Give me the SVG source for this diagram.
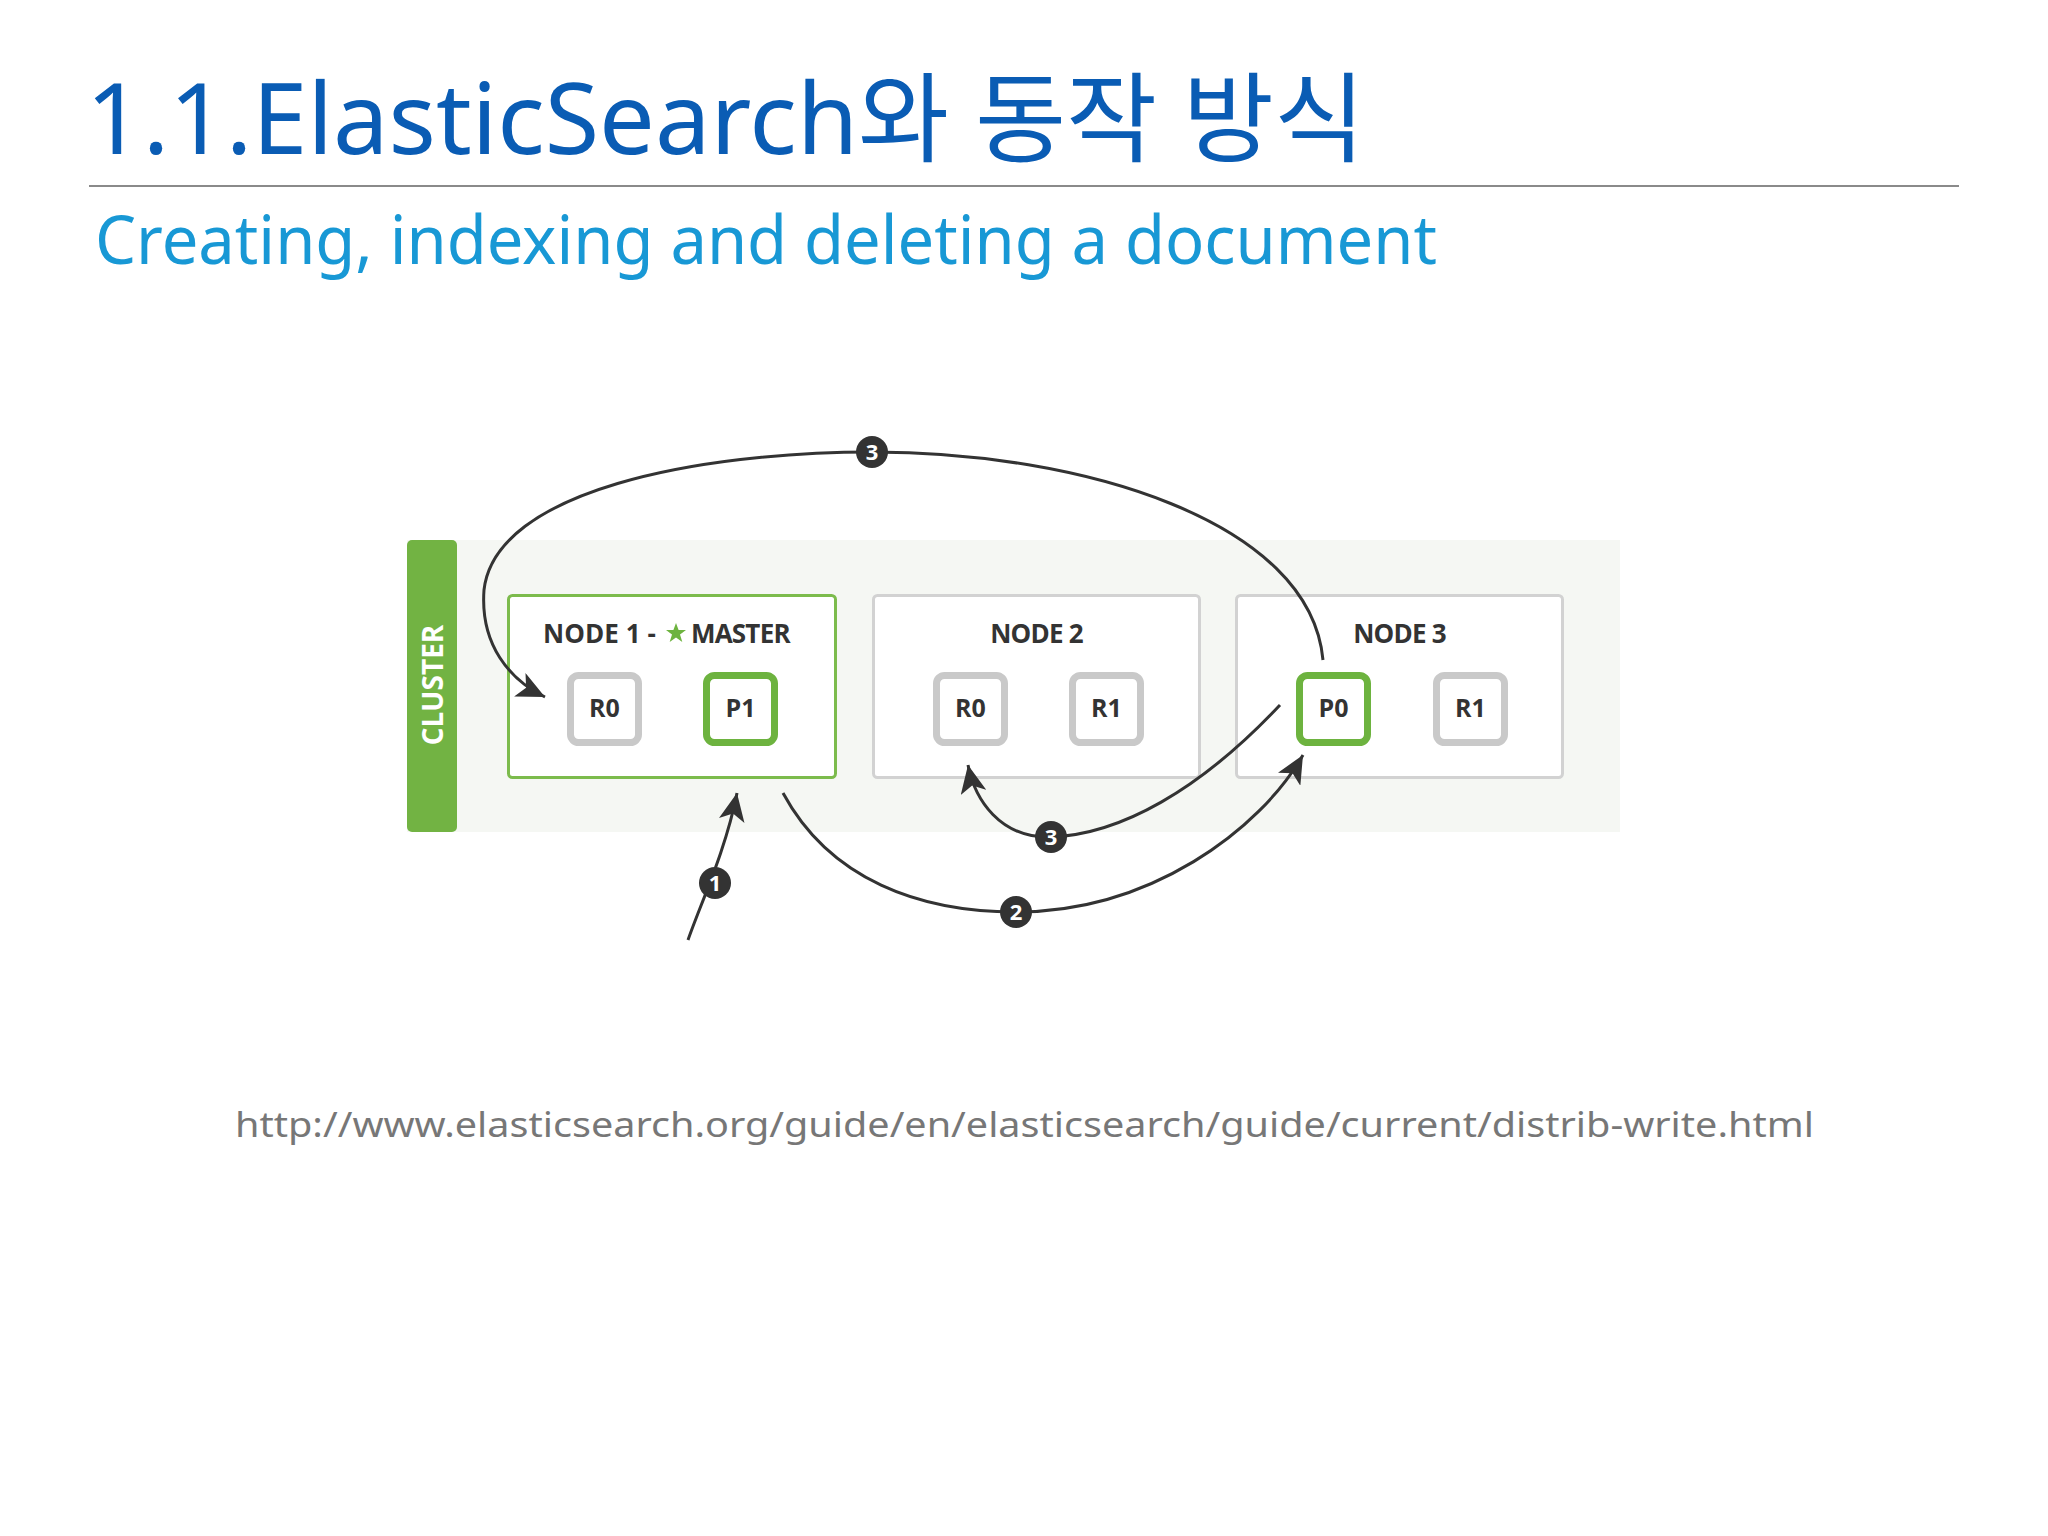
<svg xmlns="http://www.w3.org/2000/svg" width="2048" height="1536" viewBox="0 0 2048 1536">
<defs>
<style>
.title{font-family:"Noto Sans","Noto Sans CJK KR",sans-serif;font-size:98px;fill:#0a5cb4}
.sub{font-family:"Noto Sans","Noto Sans CJK KR",sans-serif;font-size:68px;fill:#1898d5}
.url{font-family:"Noto Sans",sans-serif;font-size:34px;fill:#777}
.nodebox{fill:#fff;stroke:#d2d2d2;stroke-width:3}
.master{fill:#fff;stroke:#7cbb4c;stroke-width:3}
.lbl{font-family:"Open Sans","Liberation Sans",sans-serif;font-weight:700;font-size:26px;fill:#333;letter-spacing:-0.8px}
.shard{fill:#fff;stroke:#c9c9c9;stroke-width:7}
.prim{fill:#fff;stroke:#6db33f;stroke-width:7}
.sl{font-family:"Open Sans","Liberation Sans",sans-serif;font-weight:700;font-size:25px;fill:#333;text-anchor:middle}
.conn{fill:none;stroke:#333;stroke-width:3}
.badge{fill:#333}
.bt{font-family:"Open Sans","Liberation Sans",sans-serif;font-weight:700;font-size:22px;fill:#fff;text-anchor:middle}
</style>
<marker id="arr" markerUnits="userSpaceOnUse" markerWidth="30" markerHeight="26" refX="28" refY="13" orient="auto">
<path d="M0,0 L28,13 L0,26 L7,13 Z" fill="#333"/>
</marker>
</defs>
<rect width="2048" height="1536" fill="#fff"/>
<text class="title" x="86" y="154" textLength="1279" lengthAdjust="spacingAndGlyphs">1.1.ElasticSearch와 동작 방식</text>
<line x1="89" y1="186" x2="1959" y2="186" stroke="#8a8a8a" stroke-width="2"/>
<text class="sub" x="95" y="264" textLength="1342" lengthAdjust="spacingAndGlyphs">Creating, indexing and deleting a document</text>

<g id="cluster">
<rect x="407" y="540" width="1213" height="292" fill="#f5f7f3"/>
<rect x="407" y="540" width="50" height="292" rx="5" fill="#72b343"/>
<text x="0" y="0" transform="translate(443,685) rotate(-90)" text-anchor="middle" font-family="Open Sans, Liberation Sans, sans-serif" font-weight="700" font-size="28" fill="#fff">CLUSTER</text>
</g>

<g id="node1">
<rect class="master" x="508.5" y="595.5" width="327" height="182" rx="4"/>
<text class="lbl" x="543" y="643" textLength="112" lengthAdjust="spacing">NODE 1 -</text>
<polygon points="676,623 678.6,630 686,630 680,634.5 682.3,642 676,637.5 669.7,642 672,634.5 666,630 673.4,630" fill="#6db33f"/>
<text class="lbl" x="691" y="643">MASTER</text>
</g>
<g id="node1-R0"><rect class="shard" x="570.5" y="675.5" width="68" height="67" rx="8"/><text class="sl" x="604.5" y="717">R0</text></g>
<g id="node1-P1"><rect class="prim" x="706.5" y="675.5" width="68" height="67" rx="8"/><text class="sl" x="740.5" y="717">P1</text></g>

<g id="node2">
<rect class="nodebox" x="873.5" y="595.5" width="326" height="182" rx="4"/>
<text class="lbl" x="1036.5" y="643" text-anchor="middle">NODE 2</text>
</g>
<g id="node2-R0"><rect class="shard" x="936.5" y="675.5" width="68" height="67" rx="8"/><text class="sl" x="970.5" y="717">R0</text></g>
<g id="node2-R1"><rect class="shard" x="1072.5" y="675.5" width="68" height="67" rx="8"/><text class="sl" x="1106.5" y="717">R1</text></g>

<g id="node3">
<rect class="nodebox" x="1236.5" y="595.5" width="326" height="182" rx="4"/>
<text class="lbl" x="1399.5" y="643" text-anchor="middle">NODE 3</text>
</g>
<g id="node3-P0"><rect class="prim" x="1299.5" y="675.5" width="68" height="67" rx="8"/><text class="sl" x="1333.5" y="717">P0</text></g>
<g id="node3-R1"><rect class="shard" x="1436.5" y="675.5" width="68" height="67" rx="8"/><text class="sl" x="1470.5" y="717">R1</text></g>

<g id="connectors">
<path class="conn" d="M688,940 C700,905 726,850 737,793" marker-end="url(#arr)"/>
<path class="conn" d="M783,793 C830,880 920,912 1016,912 C1150,912 1260,830 1303,755" marker-end="url(#arr)"/>
<path class="conn" d="M1280,705 C1200,790 1120,835 1050,837 C1000,838 975,800 968,765" marker-end="url(#arr)"/>
<path class="conn" d="M1323,660 C1310,520 1080,452 872,452 C700,452 495,490 484,590 C480,645 510,680 545,697" marker-end="url(#arr)"/>
<circle class="badge" cx="715" cy="883" r="16"/><text class="bt" x="715" y="891">1</text>
<circle class="badge" cx="1016" cy="912" r="16"/><text class="bt" x="1016" y="920">2</text>
<circle class="badge" cx="1051" cy="837" r="16"/><text class="bt" x="1051" y="845">3</text>
<circle class="badge" cx="872" cy="452" r="16"/><text class="bt" x="872" y="460">3</text>
</g>

<text class="url" x="235" y="1137" textLength="1579" lengthAdjust="spacingAndGlyphs">http://www.elasticsearch.org/guide/en/elasticsearch/guide/current/distrib-write.html</text>
</svg>
